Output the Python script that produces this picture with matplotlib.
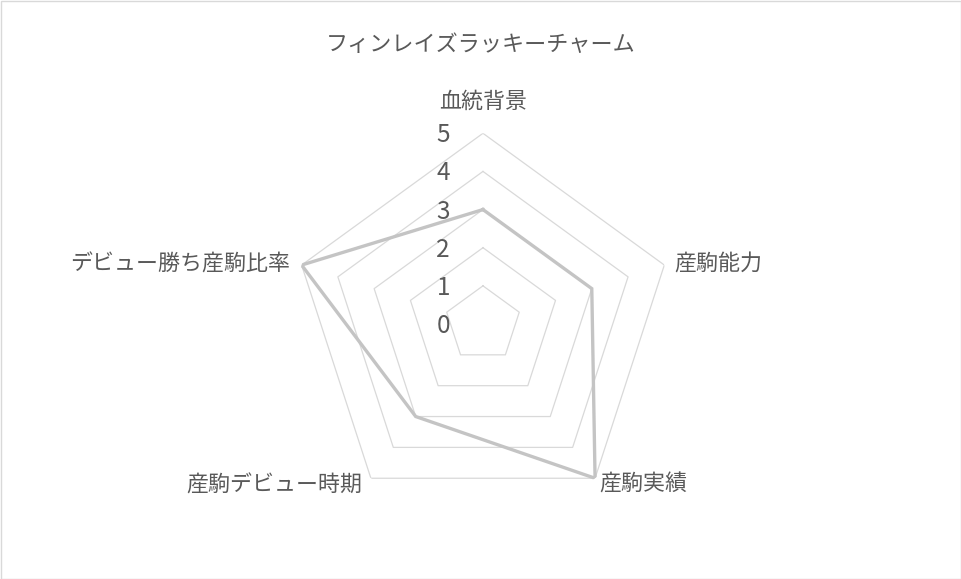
import numpy as np
import matplotlib
matplotlib.use('Agg')
import matplotlib.pyplot as plt
from matplotlib.patches import Rectangle

plt.rcParams['font.family'] = ['Noto Sans CJK JP', 'DejaVu Sans']

# Data
title = 'フィンレイズラッキーチャーム'
categories = ['血統背景', '産駒能力', '産駒実績', '産駒デビュー時期', 'デビュー勝ち産駒比率']
values = [3, 3, 5, 3, 5]
ticks = [0, 1, 2, 3, 4, 5]

text_color = '#595959'
grid_color = '#D9D9D9'
line_color = '#C4C4C4'

fig = plt.figure(figsize=(9.62, 5.79), dpi=100)
fig.patches.append(Rectangle((0.5 / 962, 0.5 / 579), 1 - 1.5 / 962, 1 - 1.5 / 579,
                             transform=fig.transFigure, fill=False,
                             edgecolor=grid_color, linewidth=1))

ax = fig.add_axes([0.3038, 0.1111, 0.3965, 0.6587], projection='polar')
ax.set_theta_offset(np.pi / 2)
ax.set_theta_direction(-1)
ax.set_ylim(0, 5)
ax.axis('off')

n = len(categories)
angles = np.linspace(0, 2 * np.pi, n, endpoint=False)
closed = np.append(angles, angles[0])

# pentagon grid rings (no ring at 0)
for t in ticks[1:]:
    ax.plot(closed, [t] * (n + 1), color=grid_color, linewidth=0.9, zorder=1)

# data line
ax.plot(closed, values + values[:1], color=line_color, linewidth=2.4,
        solid_joinstyle='miter', zorder=3)

# tick labels
for t in ticks:
    ax.annotate(str(t), xy=(0, t), xytext=(-33, -2), textcoords='offset pixels',
                ha='right', va='center', fontsize=17.5, color=text_color)

# category labels
offsets = [(0, 32, 'center'), (10, 0, 'left'), (4, -6, 'left'),
           (-9, -7, 'right'), (-11, 0, 'right')]
for ang, lab, (dx, dy, ha) in zip(angles, categories, offsets):
    ax.annotate(lab, xy=(ang, 5), xytext=(dx, dy), textcoords='offset pixels',
                ha=ha, va='center', fontsize=15.8, color=text_color)

fig.text(0.5, 1 - 45 / 579, title, ha='center', va='center',
         fontsize=15.9, color=text_color)

fig.savefig('out.png', dpi=100)
